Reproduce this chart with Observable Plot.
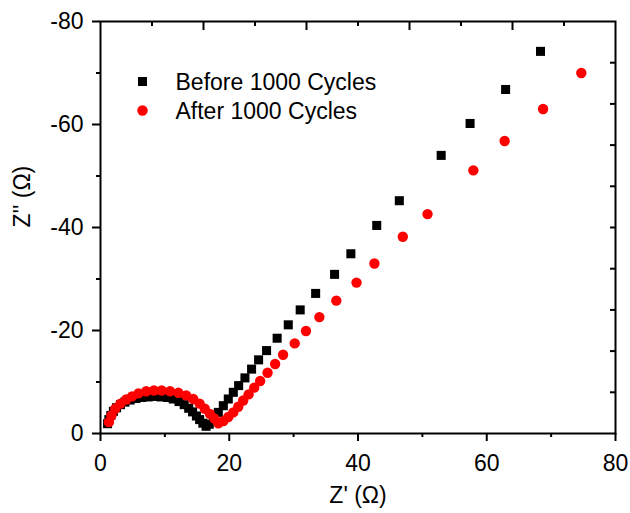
<!DOCTYPE html>
<html>
<head>
<meta charset="utf-8">
<script src="https://cdn.jsdelivr.net/npm/d3@7"></script>
<script src="https://cdn.jsdelivr.net/npm/@observablehq/plot@0.6"></script>
<style>
  html, body { margin: 0; padding: 0; background: #fff; }
</style>
</head>
<body>
<div id="chart"></div>
<script>
// Series names
const seriesNames = ["Before 1000 Cycles", "After 1000 Cycles"];

// Before 1000 Cycles: Z' (Ω) and Z'' (Ω)
const beforeX = [1.1, 1.3, 1.6, 2.0, 2.5, 3.1, 3.8, 4.6, 5.5, 6.4, 7.4, 8.4, 9.4, 10.4, 11.3, 12.2, 13.0, 13.7, 14.3, 14.9, 15.4, 15.9, 16.4, 16.9, 17.55, 18.3, 19.08, 19.85, 20.63, 21.46, 22.44, 23.47, 24.56, 25.8, 27.44, 29.17, 31.02, 33.42, 36.36, 38.89, 42.91, 46.42, 52.92, 57.41, 62.93, 68.35];
const beforeY = [-1.9, -2.7, -3.5, -4.3, -5.0, -5.6, -6.1, -6.5, -6.8, -7.0, -7.1, -7.2, -7.1, -7.0, -6.7, -6.2, -5.6, -4.9, -4.2, -3.4, -2.7, -2.0, -1.4, -1.8, -2.9, -4.1, -5.4, -6.7, -8.0, -9.3, -10.8, -12.5, -14.3, -16.1, -18.5, -21.1, -24.0, -27.2, -30.9, -34.9, -40.4, -45.2, -54.0, -60.2, -66.8, -74.2];

// After 1000 Cycles
const afterX = [1.3, 1.7, 2.3, 3.1, 4.0, 4.9, 5.9, 7.1, 8.3, 9.5, 10.8, 12.1, 13.3, 14.4, 15.4, 16.2, 17.0, 17.7, 18.3, 19.08, 19.85, 20.63, 21.4, 22.17, 23.01, 23.88, 24.8, 25.95, 27.13, 28.36, 30.17, 31.92, 34.0, 36.63, 39.77, 42.55, 46.96, 50.8, 57.92, 62.78, 68.75, 74.69];
const afterY = [-2.2, -3.5, -4.8, -5.8, -6.6, -7.2, -7.8, -8.2, -8.35, -8.35, -8.2, -7.9, -7.4, -6.7, -5.8, -4.8, -3.8, -2.9, -2.0, -2.4, -3.2, -4.1, -5.2, -6.4, -7.6, -8.9, -10.2, -11.8, -13.5, -15.3, -17.5, -19.9, -22.6, -25.8, -29.3, -33.0, -38.2, -42.6, -51.1, -56.8, -63.0, -70.0];

// Axis ticks
const xTicks = [0, 20, 40, 60, 80];
const xMinor = [10, 30, 50, 70];
const yTicks = [0, -20, -40, -60, -80];
const yMinor = [-10, -30, -50, -70];
const topMajor = [16, 32, 48, 64];
const topMinor = [8, 24, 40, 56, 72];
const rightTicks = [-8, -16, -24, -32, -40, -48, -56, -64, -72];

const xTitle = "Z' (Ω)";
const yTitle = "Z'' (Ω)";

const before = beforeX.map((x, i) => ({x, y: beforeY[i]}));
const after = afterX.map((x, i) => ({x, y: afterY[i]}));

const fmt = d => `${d}`;
const blank = () => "";
const font = "'Liberation Sans', Arial, sans-serif";

const legendMarks = [];
const legendStyle = [
  {symbol: "square", fill: "black", r: 5.1},
  {symbol: "circle", fill: "#ff0000", r: 5.2}
];
seriesNames.forEach((name, i) => {
  legendMarks.push(Plot.dot([name], {frameAnchor: "top-left", dx: 42, dy: 60 + 29 * i, symbol: legendStyle[i].symbol, fill: legendStyle[i].fill, r: legendStyle[i].r, stroke: "none"}));
  legendMarks.push(Plot.text([name], {frameAnchor: "top-left", lineAnchor: "middle", dx: 75, dy: 61 + 29 * i, text: d => d, textAnchor: "start", fontSize: 23, fill: "black"}));
});

const chart = Plot.plot({
  width: 630,
  height: 513,
  marginLeft: 100,
  marginRight: 15,
  marginTop: 21,
  marginBottom: 80,
  style: {fontFamily: font, fontSize: "23px", color: "black", background: "white"},
  x: {domain: [0, 80]},
  y: {domain: [0, -80]},
  marks: [
    Plot.axisX({ticks: xTicks, tickSize: 8, tickPadding: 13, tickFormat: fmt, label: null, strokeWidth: 2}),
    Plot.axisX({ticks: xMinor, tickSize: 4, tickFormat: blank, label: null, strokeWidth: 2}),
    Plot.axisY({ticks: yTicks, tickSize: 8, tickPadding: 9, tickFormat: fmt, label: null, strokeWidth: 2}),
    Plot.axisY({ticks: yMinor, tickSize: 4, tickFormat: blank, label: null, strokeWidth: 2}),
    Plot.axisX({anchor: "top", ticks: topMajor, tickSize: -8, tickFormat: blank, label: null, strokeWidth: 2}),
    Plot.axisX({anchor: "top", ticks: topMinor, tickSize: -4, tickFormat: blank, label: null, strokeWidth: 2}),
    Plot.axisY({anchor: "right", ticks: rightTicks, tickSize: -6, tickFormat: blank, label: null, strokeWidth: 2}),
    Plot.frame({stroke: "black", strokeWidth: 2}),
    Plot.dot(before, {x: "x", y: "y", symbol: "square", r: 5.1, fill: "black", stroke: "none"}),
    Plot.dot(after, {x: "x", y: "y", symbol: "circle", r: 5.2, fill: "#ff0000", stroke: "none"}),
    Plot.text([xTitle], {frameAnchor: "bottom", lineAnchor: "middle", dy: 62, text: d => d, fontSize: 23, fill: "black"}),
    Plot.text([yTitle], {frameAnchor: "left", lineAnchor: "middle", dx: -78, rotate: -90, text: d => d, fontSize: 23, fill: "black"}),
    ...legendMarks
  ]
});

document.getElementById("chart").appendChild(chart);
</script>
</body>
</html>
